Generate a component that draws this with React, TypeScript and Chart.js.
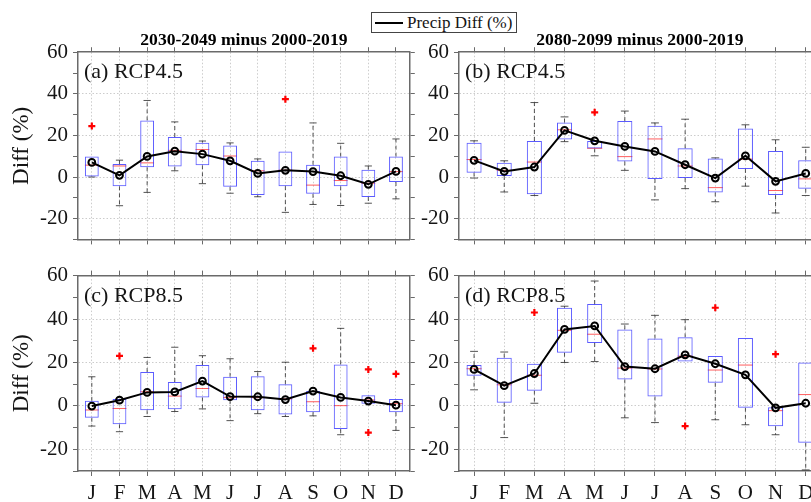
import React, { useEffect, useRef } from 'react';
import { Chart, registerables } from 'chart.js';

Chart.register(...registerables);

const MONTHS = ['J', 'F', 'M', 'A', 'M', 'J', 'J', 'A', 'S', 'O', 'N', 'D'];
const Y_MIN = -30;
const Y_MAX = 60;
const Y_STEP = 10;
const Y_LABEL_EVERY = 20;

// (a) RCP4.5, 2030-2049 minus 2000-2019
const A_LO = [0, -13.8, -7.4, 3.0, -3.2, -7.8, -9.5, -17.0, -13.2, -13.7, -12.6, -10.5];
const A_Q1 = [0.2, -4.5, 4.7, 5.0, 5.6, -4.7, -8.7, -4.4, -8.1, -4.5, -9.6, -2.4];
const A_MED = [5.7, 5.3, 6.8, 12.8, 13.2, 10.1, 3.0, 3.3, -3.9, -1.7, -3.0, 2.6];
const A_Q3 = [9.8, 6.2, 27.2, 19.2, 16.5, 15.2, 7.8, 12.3, 5.9, 9.8, 3.5, 9.8];
const A_HI = [9.8, 8.1, 36.8, 26.5, 17.3, 16.4, 8.7, 12.3, 26.0, 16.2, 5.3, 18.3];
const A_MEAN = [7.0, 0.8, 9.9, 12.4, 11.0, 7.8, 1.7, 3.2, 2.6, 0.6, -3.5, 2.7];
const A_OUT: [number, number][] = [[0, 24.5], [7, 37.4]];

// (b) RCP4.5, 2080-2099 minus 2000-2019
const B_LO = [-0.5, -7.2, -8.9, 17.0, 10.2, 3.2, -11.0, -5.6, -11.9, -4.4, -17.3, -8.9];
const B_Q1 = [2.1, 0.5, -8.3, 18.0, 13.7, 7.5, -0.9, -0.5, -7.4, 3.9, -8.7, -5.6];
const B_MED = [8.4, 3.2, 7.2, 22.7, 13.8, 9.8, 18.3, 5.3, -5.1, 8.6, -6.5, -0.9];
const B_Q3 = [16.5, 6.9, 17.3, 26.2, 17.3, 26.9, 24.7, 13.8, 8.9, 23.3, 12.5, 8.1];
const B_HI = [17.4, 7.8, 35.8, 28.9, 17.3, 31.7, 26.0, 27.8, 9.2, 25.1, 17.9, 14.3];
const B_MEAN = [8.0, 2.7, 4.8, 22.4, 17.4, 14.7, 12.3, 5.9, -0.5, 10.2, -2.1, 1.7];
const B_OUT: [number, number][] = [[4, 31.1]];

// (c) RCP8.5, 2030-2049 minus 2000-2019
const C_LO = [-9.3, -11.9, -4.9, -2.6, -1.4, -6.8, -3.6, -4.9, -4.6, -13.3, 1.0, -11.3];
const C_Q1 = [-5.5, -8.5, -2.0, -1.6, 3.9, 2.6, -2.0, -4.0, -2.9, -10.7, 1.0, -2.9];
const C_MED = [-1.9, -1.2, 6.5, 4.5, 8.0, 3.8, 3.8, 3.2, 1.9, 0.1, 2.7, 1.0];
const C_Q3 = [2.3, 3.2, 15.6, 11.0, 18.8, 13.4, 13.6, 10.0, 6.9, 19.1, 4.9, 3.2];
const C_HI = [13.4, 3.2, 22.3, 27.0, 23.1, 21.7, 15.8, 20.1, 6.9, 35.7, 4.9, 3.2];
const C_MEAN = [-0.1, 2.6, 6.2, 6.4, 11.4, 4.3, 4.2, 2.9, 6.8, 3.9, 2.2, 0.3];
const C_OUT: [number, number][] = [[1, 23.0], [8, 26.5], [10, 16.8], [10, -12.3], [11, 14.7]];

// (d) RCP8.5, 2080-2099 minus 2000-2019
const D_LO = [7.4, -14.6, 1.2, 20.0, 20.4, -5.5, -7.7, 20.4, -6.4, -8.7, -13.3, -29.5];
const D_Q1 = [13.9, 1.4, 7.0, 24.5, 29.0, 12.2, 4.3, 20.4, 10.6, -0.9, -9.4, -17.0];
const D_MED = [17.1, 9.7, 14.1, 34.8, 33.0, 17.4, 17.0, 22.9, 16.5, 18.8, -2.2, 5.2];
const D_Q3 = [18.8, 22.2, 19.4, 45.2, 46.9, 35.2, 31.0, 31.6, 23.0, 31.3, -0.6, 20.0];
const D_HI = [25.1, 24.8, 19.4, 45.9, 57.5, 37.7, 41.7, 39.7, 23.0, 31.3, -0.6, 20.0];
const D_MEAN = [16.8, 9.3, 14.9, 35.2, 36.8, 18.1, 17.1, 23.5, 19.4, 14.3, -0.9, 1.2];
const D_OUT: [number, number][] = [[2, 43.0], [7, -9.3], [8, 45.2], [10, 23.8]];

const COL_TITLES = ['2030-2049 minus 2000-2019', '2080-2099 minus 2000-2019'];
const TAGS = ['(a) RCP4.5', '(b) RCP4.5', '(c) RCP8.5', '(d) RCP8.5'];
const LEGEND_LABEL = 'Precip Diff (%)';
const Y_TITLE = 'Diff (%)';

const SERIF = "'Liberation Serif', 'Times New Roman', Times, serif";
const AXIS = '#6a6a6a';
const GRID = 'rgba(0,0,0,0.2)';
const TEXT = '#151515';

type PanelSpec = {
  tag: string;
  title?: string;
  lo: number[]; q1: number[]; med: number[]; q3: number[]; hi: number[]; mean: number[];
  out: [number, number][];
  left: number; top: number; width: number; height: number;
  yW: number; yrW: number; xtH: number; xbH: number;
  showX: boolean; showYTitle: boolean;
};

const PANELS: PanelSpec[] = [
  { tag: TAGS[0], title: COL_TITLES[0], lo: A_LO, q1: A_Q1, med: A_MED, q3: A_Q3, hi: A_HI, mean: A_MEAN, out: A_OUT,
    left: 0, top: 0, width: 416, height: 257, yW: 78, yrW: 6, xtH: 1.6, xbH: 6, showX: false, showYTitle: true },
  { tag: TAGS[1], title: COL_TITLES[1], lo: B_LO, q1: B_Q1, med: B_MED, q3: B_Q3, hi: B_HI, mean: B_MEAN, out: B_OUT,
    left: 389, top: 0, width: 438, height: 257, yW: 70, yrW: 6, xtH: 1.6, xbH: 6, showX: false, showYTitle: false },
  { tag: TAGS[2], lo: C_LO, q1: C_Q1, med: C_MED, q3: C_Q3, hi: C_HI, mean: C_MEAN, out: C_OUT,
    left: 0, top: 258, width: 416, height: 247, yW: 78, yrW: 6, xtH: 6, xbH: 34, showX: true, showYTitle: true },
  { tag: TAGS[3], lo: D_LO, q1: D_Q1, med: D_MED, q3: D_Q3, hi: D_HI, mean: D_MEAN, out: D_OUT,
    left: 389, top: 258, width: 438, height: 247, yW: 70, yrW: 6, xtH: 6, xbH: 34, showX: true, showYTitle: false },
];

function outlierLayers(out: [number, number][]) {
  const layers: (number | null)[][] = [];
  out.forEach(([m, v]) => {
    let layer = layers.find((l) => l[m] === null);
    if (!layer) {
      layer = MONTHS.map(() => null);
      layers.push(layer);
    }
    layer[m] = v;
  });
  return layers;
}

function boxPlugin(p: PanelSpec) {
  return {
    id: 'boxWhisker',
    beforeDatasetsDraw(chart: any) {
      const { ctx, chartArea, scales } = chart;
      const x = scales.x;
      const y = scales.y;
      const step = x.getPixelForValue(1) - x.getPixelForValue(0);
      const half = step * 0.25;
      const cap = step * 0.13;
      ctx.save();
      ctx.beginPath();
      ctx.rect(chartArea.left, chartArea.top, chartArea.right - chartArea.left, chartArea.bottom - chartArea.top);
      ctx.clip();
      const seg = (x1: number, y1: number, x2: number, y2: number) => {
        ctx.beginPath();
        ctx.moveTo(x1, y1);
        ctx.lineTo(x2, y2);
        ctx.stroke();
      };
      p.q1.forEach((q1v, i) => {
        const cx = x.getPixelForValue(i);
        ctx.lineWidth = 1;
        ctx.strokeStyle = 'rgba(40,40,40,0.8)';
        ctx.setLineDash([4, 3]);
        if (p.hi[i] > p.q3[i]) seg(cx, y.getPixelForValue(p.q3[i]), cx, y.getPixelForValue(p.hi[i]));
        if (p.lo[i] < q1v) seg(cx, y.getPixelForValue(q1v), cx, y.getPixelForValue(p.lo[i]));
        ctx.setLineDash([]);
        if (p.hi[i] > p.q3[i]) {
          const yy = y.getPixelForValue(p.hi[i]);
          seg(cx - cap, yy, cx + cap, yy);
        }
        if (p.lo[i] < q1v) {
          const yy = y.getPixelForValue(p.lo[i]);
          seg(cx - cap, yy, cx + cap, yy);
        }
        ctx.strokeStyle = 'rgba(255,40,40,0.75)';
        const ym = y.getPixelForValue(p.med[i]);
        seg(cx - half, ym, cx + half, ym);
      });
      ctx.restore();
    },
    afterDatasetsDraw(chart: any) {
      const { ctx, chartArea } = chart;
      ctx.save();
      ctx.font = `22px ${SERIF}`;
      ctx.fillStyle = TEXT;
      ctx.textBaseline = 'alphabetic';
      ctx.textAlign = 'left';
      ctx.fillText(p.tag, chartArea.left + 6, chartArea.top + 26);
      ctx.restore();
    },
  };
}

function Panel({ p }: { p: PanelSpec }) {
  const ref = useRef<HTMLCanvasElement>(null);
  useEffect(() => {
    if (!ref.current) return;
    const layers = outlierLayers(p.out);
    const tickGrid = { tickLength: 5, tickColor: AXIS, tickWidth: 1 };
    const chart = new Chart(ref.current, {
      type: 'bar',
      data: {
        labels: MONTHS,
        datasets: [
          {
            type: 'line',
            label: LEGEND_LABEL,
            data: p.mean,
            xAxisID: 'x',
            yAxisID: 'y',
            borderColor: '#000',
            borderWidth: 2,
            pointRadius: 3.4,
            pointBorderWidth: 2,
            pointBorderColor: '#000',
            pointBackgroundColor: 'rgba(0,0,0,0)',
            order: 0,
          } as any,
          ...layers.map((layer, k) => ({
            type: 'line',
            label: 'Outliers ' + (k + 1),
            data: layer,
            xAxisID: 'x',
            yAxisID: 'y',
            showLine: false,
            pointStyle: 'cross',
            pointRadius: 3.5,
            borderColor: '#ff0000',
            pointBorderWidth: 2.2,
            order: 1,
          } as any)),
          {
            type: 'bar',
            label: 'IQR',
            data: p.q1.map((v, i) => [v, p.q3[i]]),
            xAxisID: 'x',
            yAxisID: 'y',
            backgroundColor: 'rgba(0,0,0,0)',
            borderColor: 'rgba(50,50,255,0.8)',
            borderWidth: 1,
            borderSkipped: false,
            barPercentage: 0.5,
            categoryPercentage: 1,
            order: 2,
          } as any,
        ],
      },
      options: {
        responsive: false,
        animation: false,
        devicePixelRatio: 1,
        layout: { padding: 0 },
        plugins: {
          legend: { display: false },
          tooltip: { enabled: false },
          title: p.title
            ? {
                display: true,
                text: p.title,
                fullSize: false,
                color: '#000',
                font: { family: SERIF, size: 17.6, weight: 'bold' },
                padding: { top: 29.5, bottom: 0 },
              }
            : { display: false },
        },
        scales: {
          x: {
            type: 'category',
            position: 'bottom',
            offset: true,
            grid: { offset: false, color: GRID, lineWidth: 1, drawTicks: true, ...tickGrid },
            border: { display: true, color: AXIS, width: 1.5, dash: [1.5, 2] },
            ticks: {
              display: p.showX,
              autoSkip: false,
              maxRotation: 0,
              minRotation: 0,
              padding: 5,
              color: TEXT,
              font: { family: SERIF, size: 21 },
            },
            afterFit: (s: any) => { s.height = p.xbH; },
          },
          xt: {
            type: 'category',
            position: 'top',
            offset: true,
            grid: { offset: false, drawOnChartArea: false, drawTicks: true, ...tickGrid },
            border: { display: true, color: AXIS, width: 1.5 },
            ticks: { display: false },
            afterFit: (s: any) => { s.height = p.xtH; },
          },
          y: {
            type: 'linear',
            position: 'left',
            min: Y_MIN,
            max: Y_MAX,
            ticks: {
              stepSize: Y_STEP,
              autoSkip: false,
              padding: 5,
              color: TEXT,
              font: { family: SERIF, size: 21 },
              callback: (v: any) => (Number(v) % Y_LABEL_EVERY === 0 ? String(v) : ''),
            },
            grid: {
              color: (c: any) => {
                const v = c.tick ? c.tick.value : NaN;
                return v % Y_LABEL_EVERY === 0 && v !== Y_MAX && v !== Y_MIN ? GRID : 'rgba(0,0,0,0)';
              },
              lineWidth: 1,
              drawTicks: true,
              ...tickGrid,
            },
            border: { display: true, color: AXIS, width: 1.5, dash: [1.5, 2] },
            title: p.showYTitle
              ? { display: true, text: Y_TITLE, color: TEXT, font: { family: SERIF, size: 23 }, padding: { top: 8, bottom: 0 } }
              : { display: false },
            afterFit: (s: any) => { s.width = p.yW; },
          },
          yr: {
            type: 'linear',
            position: 'right',
            min: Y_MIN,
            max: Y_MAX,
            ticks: { display: false, stepSize: Y_STEP },
            grid: { drawOnChartArea: false, drawTicks: true, ...tickGrid },
            border: { display: true, color: AXIS, width: 1.5 },
            afterFit: (s: any) => { s.width = p.yrW; },
          },
        },
      } as any,
      plugins: [boxPlugin(p)],
    });
    return () => chart.destroy();
  }, [p]);
  return (
    <canvas
      ref={ref}
      width={p.width}
      height={p.height}
      style={{ position: 'absolute', left: p.left, top: p.top, width: p.width, height: p.height }}
    />
  );
}

export default function App() {
  return (
    <div
      style={{
        position: 'fixed',
        left: 0,
        top: 0,
        width: 811,
        height: 502,
        overflow: 'hidden',
        background: '#fff',
      }}
    >
      {PANELS.map((p) => (
        <Panel key={p.tag} p={p} />
      ))}
      <div
        style={{
          position: 'absolute',
          left: 371,
          top: 12,
          width: 146,
          height: 21,
          boxSizing: 'border-box',
          border: '1px solid #444',
          background: '#fff',
          display: 'flex',
          alignItems: 'center',
          fontFamily: SERIF,
          fontSize: 17,
          color: TEXT,
          whiteSpace: 'nowrap',
        }}
      >
        <span style={{ display: 'inline-block', width: 28, height: 0, borderTop: '2px solid #000', margin: '0 4px 0 3px' }} />
        <span>{LEGEND_LABEL}</span>
      </div>
    </div>
  );
}
